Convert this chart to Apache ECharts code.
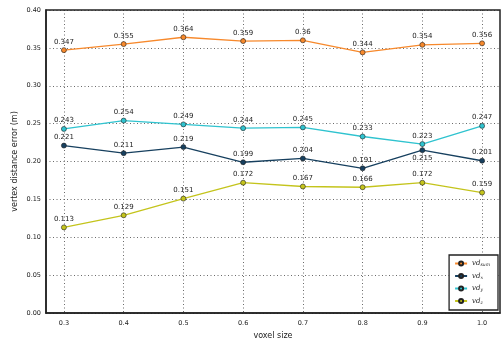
<!DOCTYPE html>
<html>
<head>
<meta charset="utf-8">
<script src="https://cdn.jsdelivr.net/npm/echarts@6/dist/echarts.min.js"></script>
<style>
  html, body { margin: 0; padding: 0; background: #fff; }
  #chart { width: 503px; height: 345px; }
</style>
</head>
<body>
<div id="chart"></div>
<script>
// Voxel sizes on the x axis
const voxelSizes = [0.3, 0.4, 0.5, 0.6, 0.7, 0.8, 0.9, 1.0];

// Vertex distance error per component (m)
const vdSum = [0.347, 0.355, 0.364, 0.359, 0.36, 0.344, 0.354, 0.356];
const vdX   = [0.221, 0.211, 0.219, 0.199, 0.204, 0.191, 0.215, 0.201];
const vdY   = [0.243, 0.254, 0.249, 0.244, 0.245, 0.233, 0.223, 0.247];
const vdZ   = [0.113, 0.129, 0.151, 0.172, 0.167, 0.166, 0.172, 0.159];

// Series names with their subscripts
const seriesNames = ['vd_sum', 'vd_x', 'vd_y', 'vd_z'];
const subscripts = { vd_sum: 'sum', vd_x: 'x', vd_y: 'y', vd_z: 'z' };

const colors = {
  vd_sum: '#f7892c',
  vd_x: '#17405f',
  vd_y: '#2fc3cf',
  vd_z: '#c4c41c'
};

// Labels placed under the point instead of above
const belowLabels = { vd_x: [6] };

function makeSeries(name, values) {
  const below = belowLabels[name] || [];
  return {
    name: name,
    type: 'line',
    data: values.map((v, i) => {
      const item = { value: [voxelSizes[i], v] };
      if (below.includes(i)) item.label = { position: 'bottom', distance: 2 };
      return item;
    }),
    symbol: 'circle',
    symbolSize: 5,
    color: colors[name],
    lineStyle: { width: 1.3, color: colors[name] },
    itemStyle: { color: colors[name], borderColor: '#222', borderWidth: 0.6 },
    label: {
      show: true,
      position: 'top',
      distance: 2,
      formatter: p => String(p.value[1]),
      fontFamily: 'DejaVu Sans',
      fontSize: 7,
      color: '#222'
    },
    emphasis: { disabled: true },
    animation: false,
    z: 3
  };
}

const chart = echarts.init(document.getElementById('chart'), null, { renderer: 'canvas' });

chart.setOption({
  animation: false,
  backgroundColor: '#fff',
  grid: { left: 46, right: 3, top: 10, bottom: 32, show: false, outerBoundsMode: 'none', containLabel: false },
  xAxis: {
    type: 'value',
    min: 0.27,
    max: 1.03,
    name: 'voxel size',
    nameLocation: 'middle',
    nameGap: 18,
    nameTextStyle: { fontFamily: 'DejaVu Sans', fontSize: 8, color: '#222' },
    axisLine: { show: true, onZero: false, lineStyle: { color: '#222', width: 1.5 } },
    axisTick: { show: false, customValues: voxelSizes },
    axisLabel: {
      customValues: voxelSizes,
      formatter: v => v.toFixed(1),
      fontFamily: 'DejaVu Sans',
      fontSize: 6.5,
      color: '#222',
      margin: 7
    },
    splitLine: { show: true, lineStyle: { color: '#444', type: [1, 2.5], width: 0.8 } }
  },
  yAxis: {
    type: 'value',
    min: 0,
    max: 0.4,
    interval: 0.05,
    name: 'vertex distance error (m)',
    nameLocation: 'middle',
    nameGap: 27,
    nameMoveOverlap: false,
    nameTextStyle: { fontFamily: 'DejaVu Sans', fontSize: 8, color: '#222' },
    axisLine: { show: true, lineStyle: { color: '#222', width: 1.5 } },
    axisTick: { show: false },
    axisLabel: {
      formatter: v => v.toFixed(2),
      fontFamily: 'DejaVu Sans',
      fontSize: 6.5,
      color: '#222',
      margin: 5
    },
    splitLine: { show: true, lineStyle: { color: '#444', type: [1, 2.5], width: 0.8 } }
  },
  legend: {
    orient: 'vertical',
    right: 5,
    bottom: 35,
    data: seriesNames,
    itemWidth: 12,
    itemHeight: 5,
    itemGap: 5,
    padding: [5, 8, 5, 5],
    backgroundColor: '#fff',
    borderColor: '#222',
    borderWidth: 1.3,
    borderRadius: 0,
    formatter: n => '{i|vd}{s|' + subscripts[n] + '}',
    textStyle: {
      rich: {
        i: { fontFamily: 'DejaVu Serif', fontStyle: 'italic', fontSize: 7, color: '#222' },
        s: { fontFamily: 'DejaVu Serif', fontStyle: 'italic', fontSize: 4.5, color: '#222', verticalAlign: 'bottom', padding: [3, 0, 0, 0] }
      }
    }
  },
  series: [
    makeSeries('vd_sum', vdSum),
    makeSeries('vd_x', vdX),
    makeSeries('vd_y', vdY),
    makeSeries('vd_z', vdZ)
  ]
});

// Draw the full rectangular frame around the plotting area
const gridRect = chart.getModel().getComponent('grid').coordinateSystem.getRect();
chart.setOption({
  graphic: [{
    type: 'rect',
    shape: { x: gridRect.x, y: gridRect.y, width: gridRect.width, height: gridRect.height },
    style: { fill: 'none', stroke: '#222', lineWidth: 1.5 },
    silent: true,
    z: 10
  }]
});
</script>
</body>
</html>
